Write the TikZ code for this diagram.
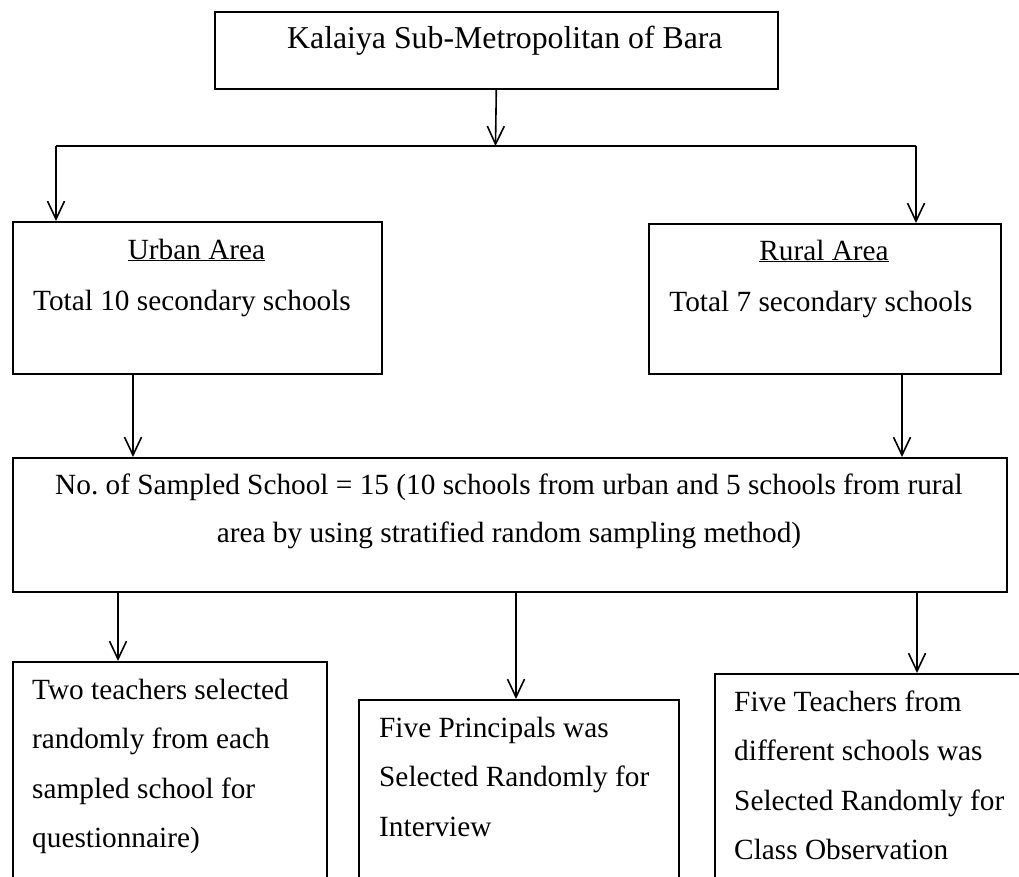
\documentclass[tikz,border=0pt]{standalone}
\usepackage{fontspec}
\setmainfont{Liberation Serif}
\usetikzlibrary{arrows.meta}
\frenchspacing
\begin{document}
\begin{tikzpicture}[x=1pt,y=-1pt,
  box/.style={draw, line width=1.6pt, rectangle, inner sep=0pt, anchor=north west},
  arr/.style={line width=1.6pt, -{Straight Barb[length=18pt,width=17pt]}},
  body/.style={inner sep=0pt, font=\fontsize{29.3}{49.5}\selectfont},
  bigfont/.style={inner sep=0pt, font=\fontsize{31.8}{38}\selectfont},
]
\useasboundingbox (0,0) rectangle (1019,877);
\clip (0,0) rectangle (1019,877);

% boxes
\node[box, minimum width=563pt, minimum height=77pt] (top) at (214,11) {};
\node[box, minimum width=369pt, minimum height=152pt] (urban) at (12,221) {};
\node[box, minimum width=352pt, minimum height=150pt] (rural) at (648,223) {};
\node[box, minimum width=994pt, minimum height=134pt] (big) at (12,457) {};
\node[box, minimum width=314pt, minimum height=300pt] (b1) at (12,661) {};
\node[box, minimum width=320pt, minimum height=300pt] (b2) at (358,699) {};
\node[box, minimum width=330pt, minimum height=300pt] (b3) at (714,673) {};

% texts
\node[bigfont, anchor=base west] (ttext) at (287,49) {Kalaiya Sub-Metropolitan of Bara};
\node[body, anchor=base] (utitle) at (196.5,259) {\underline{Urban Area}};
\node[body, anchor=base] (utext) at (192,310) {Total 10 secondary schools};
\node[body, anchor=base] (rtitle) at (824,260) {\underline{Rural Area}};
\node[body, anchor=base] (rtext) at (821,311) {Total 7 secondary schools};
\node[body, font=\fontsize{29.3}{48}\selectfont, anchor=base, text width=990pt, align=flush center] (btext) at (509,494)
  {No. of Sampled School = 15 (10 schools from urban and 5 schools from rural\\
   area by using stratified random sampling method)};
\node[body, anchor=base west, text width=290pt, align=flush left] (t1) at (32,699)
  {Two teachers selected\\ randomly from each\\ sampled school for\\ questionnaire)};
\node[body, anchor=base west, text width=295pt, align=flush left] (t2) at (379,737)
  {Five Principals was\\ Selected Randomly for\\ Interview};
\node[body, anchor=base west, text width=290pt, align=flush left] (t3) at (734,711)
  {Five Teachers from\\ different schools was\\ Selected Randomly for\\ Class Observation};

% connectors
\coordinate (split) at (495.5,146);
\coordinate (hl) at (56,146);
\coordinate (hr) at (916,146);
\draw[arr] (top.south) -- (split);
\draw[line width=1.6pt] (hl) -- (hr);
\draw[arr] (hl) -- (hl |- urban.north);
\draw[arr] (hr) -- (hr |- rural.north);
\coordinate (u1) at (133,0);
\coordinate (r1) at (902,0);
\draw[arr] (urban.south -| u1) -- (big.north -| u1);
\draw[arr] (rural.south -| r1) -- (big.north -| r1);
\coordinate (c1) at (118,0);
\coordinate (c2) at (516,0);
\coordinate (c3) at (917,0);
\draw[arr] (big.south -| c1) -- (b1.north -| c1);
\draw[arr] (big.south -| c2) -- (b2.north -| c2);
\draw[arr] (big.south -| c3) -- (b3.north -| c3);
\end{tikzpicture}
\end{document}
